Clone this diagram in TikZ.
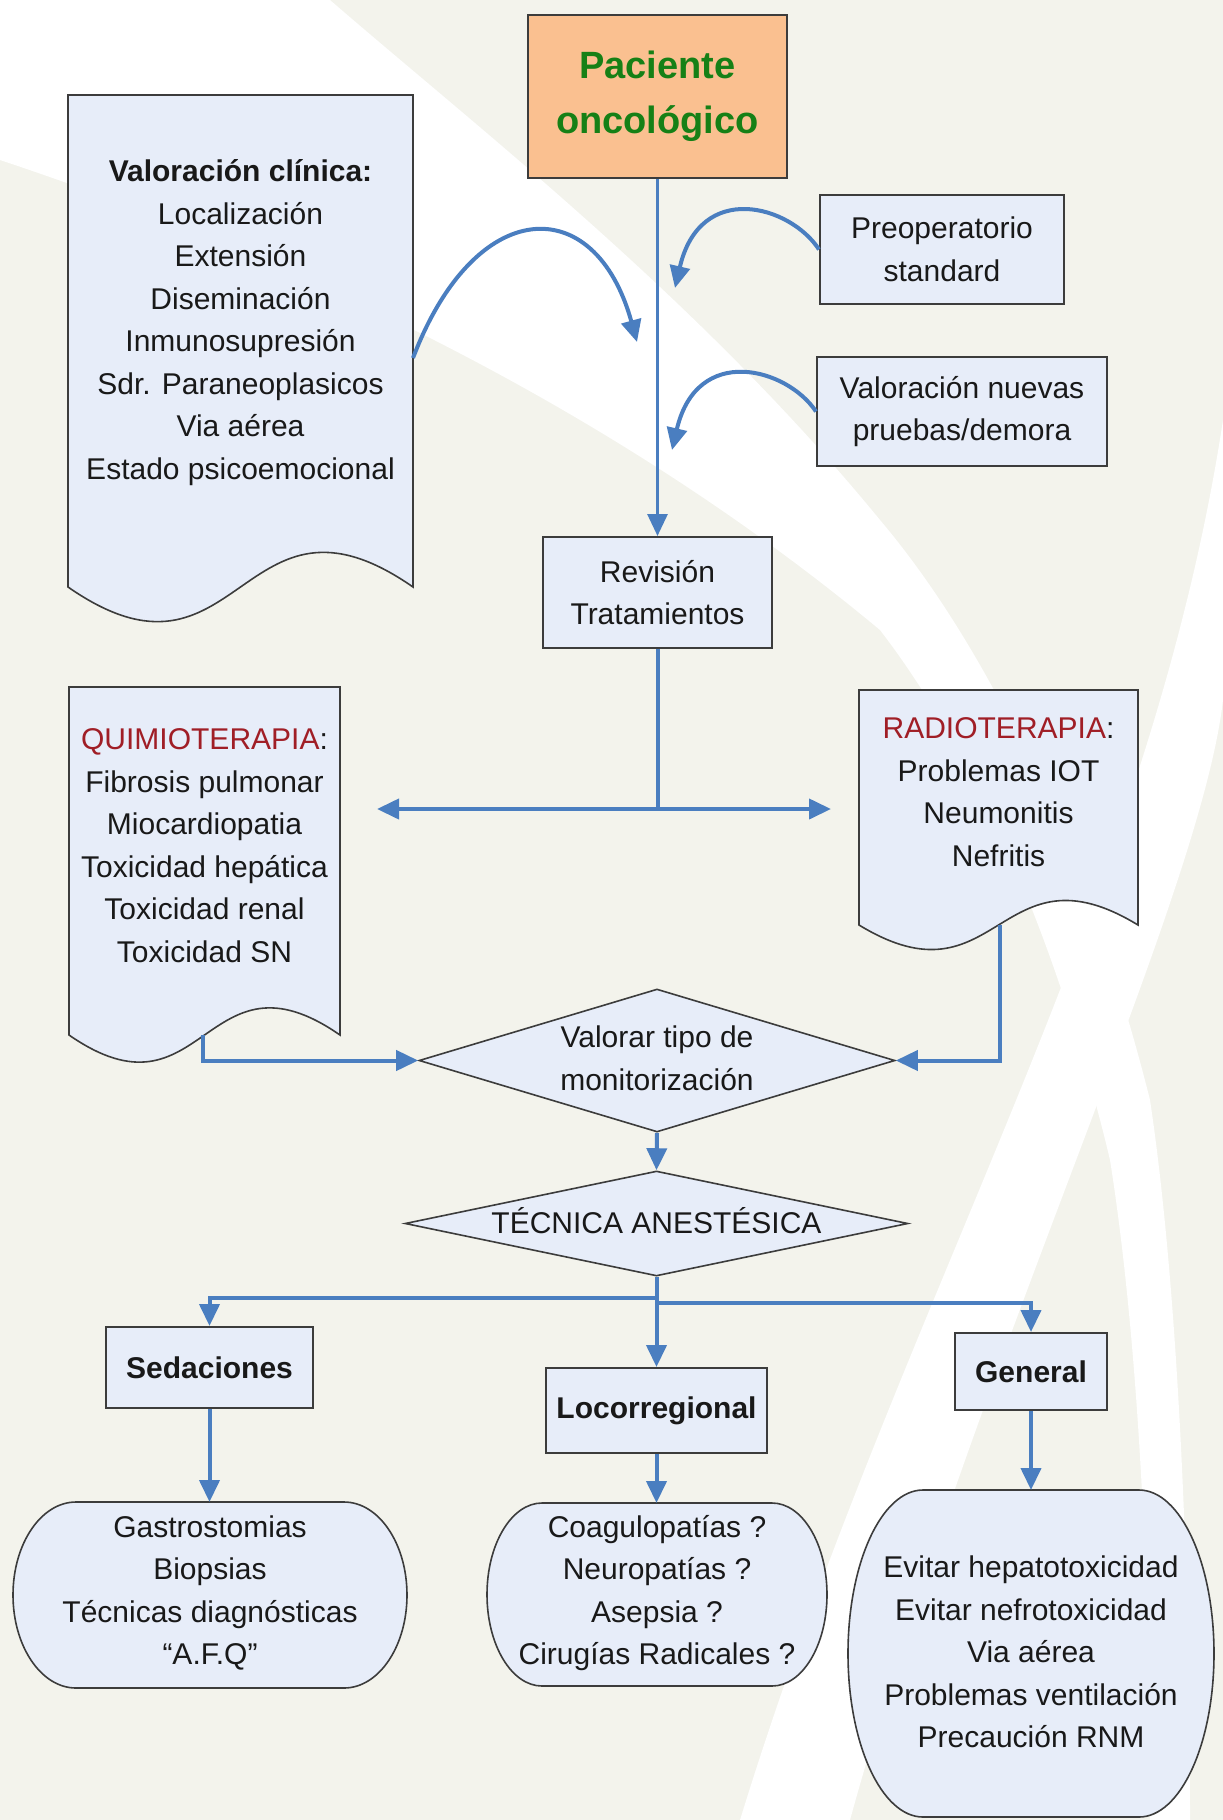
\documentclass[tikz,border=0pt]{standalone}
\usepackage{fontspec}
\setmainfont{Liberation Sans}
\usetikzlibrary{shapes.geometric,arrows.meta}
\definecolor{bgc}{RGB}{243,243,236}
\definecolor{boxc}{RGB}{231,237,249}
\definecolor{orangec}{RGB}{250,192,144}
\definecolor{greenc}{RGB}{22,128,22}
\definecolor{redc}{RGB}{160,30,38}
\definecolor{bluec}{RGB}{74,126,192}
\definecolor{edgec}{RGB}{60,60,60}
\begin{document}
\begin{tikzpicture}[x=1pt,y=-1pt,
  txt/.style={font=\fontsize{30}{42.5}\selectfont, text=black!90, align=center, inner sep=0pt},
  boxn/.style={draw=edgec, line width=2pt, fill=boxc, rectangle, txt},
  shp/.style={draw=edgec, line width=1.6pt, fill=boxc},
  dmd/.style={diamond, draw=edgec, line width=1.6pt, fill=boxc, inner sep=0pt},
  conn/.style={draw=bluec, line width=4pt},
  arr/.style={conn, -{Triangle[length=22pt,width=20pt]}},
]
% background
\fill[bgc] (0,0) rectangle (1223,1820);
\useasboundingbox (0,0) rectangle (1223,1820);
\fill[white] (0,0) -- (330,0) .. controls (480,130) and (700,300) .. (880,520)
  .. controls (990,650) and (1090,860) .. (1150,1100)
  .. controls (1180,1300) and (1190,1600) .. (1190,1820) -- (1150,1820)
  .. controls (1150,1600) and (1140,1350) .. (1110,1160)
  .. controls (1060,950) and (980,760) .. (880,630)
  .. controls (700,480) and (420,300) .. (0,160) -- cycle;
\fill[white] (1223,420) .. controls (1150,900) and (900,1300) .. (740,1820)
  -- (850,1820) .. controls (980,1350) and (1200,900) .. (1223,700) -- cycle;

% top
\node[draw=edgec, line width=2pt, fill=orangec, minimum width=259pt, minimum height=163pt,
  inner sep=0pt, align=center, font=\bfseries\fontsize{38}{55}\selectfont, text=greenc]
  (pac) at (657.5,96.5) {Paciente\\oncológico};

% Valoracion clinica document
\draw[shp] (68,95) -- (413,95) -- (413,587) .. controls (240.5,467) and (240.5,707) .. (68,587) -- cycle;
\node[txt] (valt) at (240.5,322.5) {\textbf{Valoración clínica:}\\Localización\\Extensión\\Diseminación\\Inmunosupresión\\Sdr. Paraneoplasicos\\Via aérea\\Estado psicoemocional};
\coordinate (vale) at (413,358);
\coordinate (valtip) at (637,342);

\node[boxn, minimum width=244pt, minimum height=109pt] (pre) at (942,249.5) {Preoperatorio\\standard};
\node[boxn, minimum width=290pt, minimum height=109pt] (valn) at (962,411.5) {Valoración nuevas\\pruebas/demora};
\coordinate (pretip) at (675,288);
\coordinate (valntip) at (672,450);

\node[boxn, minimum width=229pt, minimum height=111pt] (rev) at (657.5,592.5) {Revisión\\Tratamientos};

\draw[bluec, line width=3pt, -{Triangle[length=22pt,width=20pt]}] (pac.south) -- (rev.north);
\draw[arr] (vale) .. controls (475,195) and (595,190) .. (valtip);
\draw[arr] (pre.west) .. controls (790,205) and (700,180) .. (pretip);
\draw[arr] (valn.west) .. controls (787,368) and (697,343) .. (valntip);

% Quimio / Radio documents
\draw[shp] (69,687) -- (340,687) -- (340,1035) .. controls (204.5,941) and (204.5,1129) .. (69,1035) -- cycle;
\node[txt] (quit) at (204.5,845.5) {\textcolor{redc}{QUIMIOTERAPIA}:\\Fibrosis pulmonar\\Miocardiopatia\\Toxicidad hepática\\Toxicidad renal\\Toxicidad SN};
\draw[shp] (859,690) -- (1138,690) -- (1138,925) .. controls (998.5,840) and (998.5,1010) .. (859,925) -- cycle;
\node[txt] (radt) at (998.5,792) {\textcolor{redc}{RADIOTERAPIA}:\\Problemas IOT\\Neumonitis\\Nefritis};

\coordinate (j1) at (657.5,809);
\coordinate (qtip) at (377,809);
\coordinate (rtip) at (831,809);
\draw[conn] (rev.south) -- (j1);
\draw[arr] (j1) -- (qtip);
\draw[arr] (j1) -- (rtip);

% diamonds
\node[dmd, minimum width=476pt, minimum height=143pt] (d1) at (657,1060.5) {};
\node[txt] (d1t) at (657,1058.5) {Valorar tipo de\\monitorización};
\node[dmd, minimum width=503pt, minimum height=105pt] (d2) at (656.5,1223.5) {};
\node[txt] (d2t) at (656.5,1221) {TÉCNICA ANESTÉSICA};

\coordinate (qout) at (203,1035);
\coordinate (rout) at (1000,925);
\draw[arr] (qout) |- (d1.west);
\draw[arr] (rout) |- (d1.east);
\draw[arr] (d1.south) -- (d2.north);

% technique boxes
\node[boxn, font=\bfseries\fontsize{30}{42.5}\selectfont, minimum width=207pt, minimum height=81pt] (sed) at (209.5,1367.5) {Sedaciones};
\node[boxn, font=\bfseries\fontsize{30}{42.5}\selectfont, minimum width=221pt, minimum height=85pt] (loc) at (656.5,1410.5) {Locorregional};
\node[boxn, font=\bfseries\fontsize{30}{42.5}\selectfont, minimum width=152pt, minimum height=77pt] (gen) at (1031,1371.5) {General};

\coordinate (jl) at (656.5,1298);
\coordinate (jr) at (656.5,1303);
\draw[arr] (d2.south) -- (loc.north);
\draw[arr] (jl) -| (sed.north);
\draw[arr] (jr) -| (gen.north);

% stadiums
\draw[shp] (76,1502) -- (344,1502) arc[start angle=-90,end angle=90,x radius=63,y radius=93]
  -- (76,1688) arc[start angle=90,end angle=270,x radius=63,y radius=93] -- cycle;
\node[txt] (sedt) at (210,1593) {Gastrostomias\\Biopsias\\Técnicas diagnósticas\\“A.F.Q”};
\coordinate (sedtop) at (209.5,1502);

\draw[shp] (542,1503) -- (772,1503) arc[start angle=-90,end angle=90,x radius=55,y radius=91.5]
  -- (542,1686) arc[start angle=90,end angle=270,x radius=55,y radius=91.5] -- cycle;
\node[txt] (loct) at (657,1593) {Coagulopatías ?\\Neuropatías ?\\Asepsia ?\\Cirugías Radicales ?};
\coordinate (loctop) at (656.5,1503);

\draw[shp] (923,1490) -- (1139,1490) arc[start angle=-90,end angle=90,x radius=75,y radius=163.5]
  -- (923,1817) arc[start angle=90,end angle=270,x radius=75,y radius=163.5] -- cycle;
\node[txt] (gent) at (1031,1652) {Evitar hepatotoxicidad\\Evitar nefrotoxicidad\\Via aérea\\Problemas ventilación\\Precaución RNM};
\coordinate (gentop) at (1031,1490);

\draw[arr] (sed.south) -- (sedtop);
\draw[arr] (loc.south) -- (loctop);
\draw[arr] (gen.south) -- (gentop);
\end{tikzpicture}
\end{document}
